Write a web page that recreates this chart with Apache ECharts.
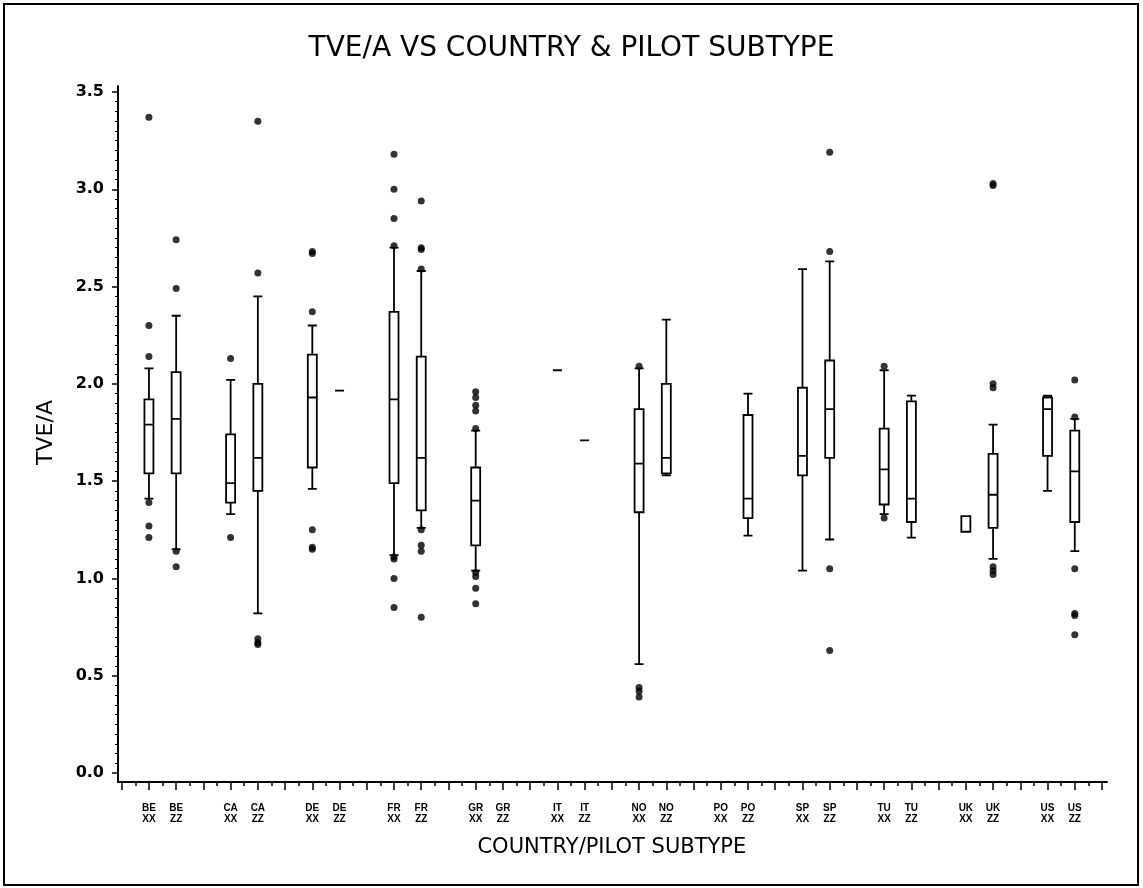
<!DOCTYPE html>
<html>
<head>
<meta charset="utf-8">
<script src="https://cdn.jsdelivr.net/npm/echarts@6/dist/echarts.min.js"></script>
<style>
  html, body { margin: 0; padding: 0; background: #fff; }
  #chart { width: 1143px; height: 888px; }
</style>
</head>
<body>
<div id="chart"></div>
<script>
// ---- data ----
const countries = ['BE','CA','DE','FR','GR','IT','NO','PO','SP','TU','UK','US'];
const subtypes = ['XX','ZZ'];
// box stats per country: [min (whisker), Q1, median, Q3, max (whisker)], null = no data
const xxStats = [
  [1.41, 1.54, 1.79, 1.92, 2.08],
  [1.33, 1.39, 1.49, 1.74, 2.02],
  [1.46, 1.57, 1.93, 2.15, 2.30],
  [1.12, 1.49, 1.92, 2.37, 2.70],
  [1.04, 1.17, 1.40, 1.57, 1.76],
  [2.07, 2.07, 2.07, 2.07, 2.07],
  [0.56, 1.34, 1.59, 1.87, 2.08],
  null,
  [1.04, 1.53, 1.63, 1.98, 2.59],
  [1.33, 1.38, 1.56, 1.77, 2.07],
  [1.24, 1.24, 1.24, 1.32, 1.32],
  [1.45, 1.63, 1.87, 1.93, 1.94]
];
const zzStats = [
  [1.15, 1.54, 1.82, 2.06, 2.35],
  [0.82, 1.45, 1.62, 2.00, 2.45],
  [1.965, 1.965, 1.965, 1.965, 1.965],
  [1.26, 1.35, 1.62, 2.14, 2.58],
  null,
  [1.71, 1.71, 1.71, 1.71, 1.71],
  [1.53, 1.54, 1.62, 2.00, 2.33],
  [1.22, 1.31, 1.41, 1.84, 1.95],
  [1.20, 1.62, 1.87, 2.12, 2.63],
  [1.21, 1.29, 1.41, 1.91, 1.94],
  [1.10, 1.26, 1.43, 1.64, 1.79],
  [1.14, 1.29, 1.55, 1.76, 1.82]
];
const xxOutliers = [
  [3.37, 2.30, 2.14, 1.39, 1.27, 1.21],
  [2.13, 1.21],
  [2.68, 2.67, 2.37, 1.25, 1.16, 1.15],
  [3.18, 3.00, 2.85, 2.71, 1.11, 1.10, 1.00, 0.85],
  [1.96, 1.93, 1.89, 1.86, 1.77, 1.03, 1.01, 0.95, 0.87],
  [],
  [2.09, 0.44, 0.42, 0.39],
  [],
  [],
  [2.09, 1.31],
  [],
  []
];
const zzOutliers = [
  [2.74, 2.49, 1.14, 1.06],
  [3.35, 2.57, 0.69, 0.67, 0.66],
  [],
  [2.94, 2.70, 2.69, 2.59, 1.25, 1.17, 1.14, 0.80],
  [],
  [],
  [],
  [],
  [3.19, 2.68, 1.05, 0.63],
  [],
  [3.03, 3.02, 2.00, 1.98, 1.06, 1.04, 1.02],
  [2.02, 1.83, 1.05, 0.82, 0.81, 0.71]
];
const yTicks = { min: 0, max: 3.5, step: 0.5 };

// ---- build ----
const slot = (ci, si) => 1 + 3 * ci + si;
const nSlots = 3 * countries.length; // 36
const tickLabel = {};
countries.forEach((c, ci) => subtypes.forEach((s, si) => { tickLabel[slot(ci, si)] = c + '\n' + s; }));

const boxData = [];
const outData = [];
[xxStats, zzStats].forEach((arr, si) => arr.forEach((st, ci) => {
  if (st) boxData.push([slot(ci, si)].concat(st));
}));
[xxOutliers, zzOutliers].forEach((arr, si) => arr.forEach((list, ci) => {
  list.forEach(v => outData.push([slot(ci, si), v]));
}));

const chart = echarts.init(document.getElementById('chart'), null, { renderer: 'canvas' });
const FONT = 'DejaVu Sans, Liberation Sans, sans-serif';
const hidden = { axisLine: { show: false }, axisTick: { show: false }, axisLabel: { show: false }, splitLine: { show: false } };
const blk = { color: '#000', width: 1.5 };

chart.setOption({
  backgroundColor: '#fff',
  animation: false,
  title: {
    text: 'TVE/A VS COUNTRY & PILOT SUBTYPE',
    left: 'center', top: 30,
    textStyle: { fontFamily: FONT, fontSize: 28, fontWeight: 'normal', color: '#000' }
  },
  graphic: [{
    type: 'rect', shape: { x: 4, y: 4, width: 1134, height: 881 },
    style: { fill: 'none', stroke: '#000', lineWidth: 2 }, silent: true
  }],
  grid: [
    { left: 121.7, right: 41, top: 92, bottom: 115 },   // data
    { left: 118, right: 36, top: 86, bottom: 106 },     // frame lines
    { left: 121.7, right: 41, top: 92, bottom: 106 },   // x ticks
    { left: 118, right: 41, top: 92, bottom: 115 }      // y ticks
  ],
  xAxis: [
    Object.assign({ type: 'value', gridIndex: 0, min: 0, max: nSlots }, hidden),
    {
      type: 'value', gridIndex: 1, min: 0, max: 1,
      axisLine: { show: true, lineStyle: { color: '#000', width: 2 } },
      axisTick: { show: false }, axisLabel: { show: false }, splitLine: { show: false }
    },
    {
      type: 'value', gridIndex: 2, min: 0, max: nSlots, interval: 1,
      axisLine: { show: false },
      axisTick: { show: true, length: 8, lineStyle: blk },
      minorTick: { show: true, splitNumber: 2, length: 4, lineStyle: blk },
      splitLine: { show: false }, minorSplitLine: { show: false },
      axisLabel: {
        margin: 21, showMinLabel: true, showMaxLabel: true,
        formatter: v => tickLabel[v] || '',
        fontFamily: 'Liberation Sans Narrow, Liberation Sans, sans-serif',
        fontWeight: 'bold', fontSize: 10, lineHeight: 11, color: '#000'
      },
      name: 'COUNTRY/PILOT SUBTYPE', nameLocation: 'middle', nameGap: 55,
      nameTextStyle: { fontFamily: FONT, fontSize: 21, color: '#000' }
    },
    Object.assign({ type: 'value', gridIndex: 3, min: 0, max: 1 }, hidden)
  ],
  yAxis: [
    Object.assign({ type: 'value', gridIndex: 0, min: yTicks.min, max: yTicks.max }, hidden),
    {
      type: 'value', gridIndex: 1, min: 0, max: 1,
      axisLine: { show: true, lineStyle: { color: '#000', width: 2 } },
      axisTick: { show: false }, axisLabel: { show: false }, splitLine: { show: false }
    },
    Object.assign({ type: 'value', gridIndex: 2, min: 0, max: 1 }, hidden),
    {
      type: 'value', gridIndex: 3, min: yTicks.min, max: yTicks.max, interval: yTicks.step,
      axisLine: { show: false },
      axisTick: { show: true, length: 6, lineStyle: blk },
      minorTick: { show: true, splitNumber: 10, length: 3, lineStyle: { color: '#000', width: 1 } },
      splitLine: { show: false }, minorSplitLine: { show: false },
      axisLabel: {
        margin: 14, formatter: v => v.toFixed(1),
        fontFamily: FONT, fontWeight: 'bold', fontSize: 16, color: '#000'
      },
      name: 'TVE/A', nameLocation: 'middle', nameGap: 61, nameRotate: 90,
      nameTextStyle: { fontFamily: FONT, fontSize: 22, color: '#000' }
    }
  ],
  series: [{
    type: 'boxplot', xAxisIndex: 0, yAxisIndex: 0,
    layout: 'horizontal',
    boxWidth: [9, 9],
    encode: { x: 0, y: [1, 2, 3, 4, 5] },
    data: boxData,
    itemStyle: { color: '#fff', borderColor: '#000', borderWidth: 1.8 },
    emphasis: { disabled: true }
  }, {
    type: 'scatter', xAxisIndex: 0, yAxisIndex: 0,
    symbol: 'circle', symbolSize: 7,
    data: outData,
    itemStyle: { color: '#000' },
    emphasis: { disabled: true }
  }]
});
</script>
</body>
</html>
